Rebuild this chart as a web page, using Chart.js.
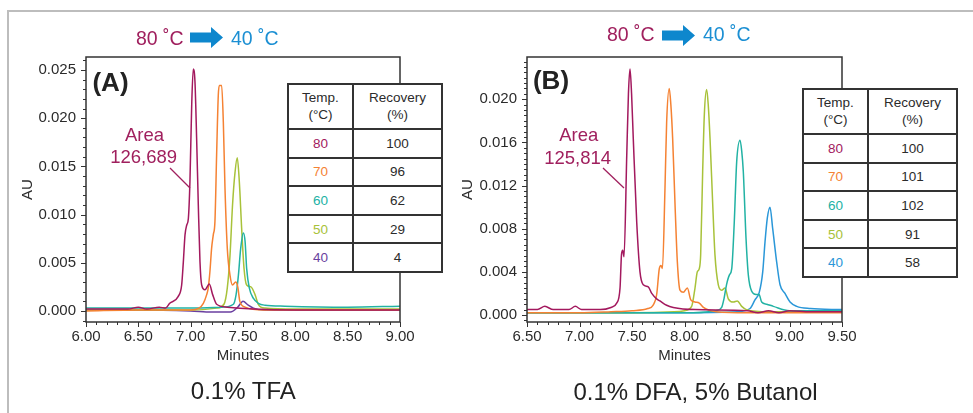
<!DOCTYPE html>
<html>
<head>
<meta charset="utf-8">
<script src="https://cdn.jsdelivr.net/npm/chart.js@4.4.1/dist/chart.umd.min.js"></script>
<style>
  html, body { margin: 0; padding: 0; background: #fff; }
  #page { position: relative; width: 973px; height: 413px; overflow: hidden;
          font-family: "Liberation Sans", Arial, sans-serif; color: #2b2b2b; }
  .frame { position: absolute; left: 7px; top: 10px; width: 980px; height: 420px;
           border-top: 2px solid #bdbdbd; border-left: 2px solid #bdbdbd; }
  canvas { position: absolute; top: 0; }
  .c { position: absolute; transform: translate(-50%, -50%); white-space: nowrap; line-height: 1; }
  .l { position: absolute; transform: translateY(-50%); white-space: nowrap; line-height: 1; }
  .tag { font-weight: bold; font-size: 26px; color: #222; }
  .area { font-size: 18.5px; color: #a0205e; }
  .hot { font-size: 19.5px; color: #a0205e; }
  .cold { font-size: 19.5px; color: #1b8fd3; }
  .cap { font-size: 24px; color: #222; }
  .tbl { position: absolute; display: grid; grid-template-columns: 65px 89px;
         grid-template-rows: 45px repeat(5, 28.6px); background: #fff;
         border-top: 2px solid #333; border-left: 2px solid #333; font-size: 13.5px; }
  .tbl div { box-sizing: border-box; border-right: 2px solid #333; border-bottom: 2px solid #333;
             display: flex; align-items: center; justify-content: center; text-align: center; }
  .tbl .h { line-height: 16.7px; }
</style>
</head>
<body>
<div id="page">
  <div class="frame"></div>
  <canvas id="chartA" width="480" height="413" style="left:0"></canvas>
  <canvas id="chartB" width="533" height="413" style="left:440px"></canvas>

  <div class="l hot" style="left:136px;top:38.5px">80 ˚C</div>
  <svg style="position:absolute;left:190px;top:27px" width="33" height="21"><polygon points="0,5.5 21,5.5 21,0 33,10.5 21,21 21,15.5 0,15.5" fill="#0e87cd"/></svg>
  <div class="l cold" style="left:231px;top:38.5px">40 ˚C</div>

  <div class="l hot" style="left:607px;top:35px">80 ˚C</div>
  <svg style="position:absolute;left:662px;top:24.5px" width="33" height="21"><polygon points="0,5.5 21,5.5 21,0 33,10.5 21,21 21,15.5 0,15.5" fill="#0e87cd"/></svg>
  <div class="l cold" style="left:703px;top:35px">40 ˚C</div>

  <div class="c tag" style="left:110.5px;top:82px">(A)</div>
  <div class="c tag" style="left:551px;top:79.5px">(B)</div>

  <div class="c area" style="left:144.5px;top:135px">Area</div>
  <div class="c area" style="left:143.7px;top:157.3px">126,689</div>
  <div class="c area" style="left:578.8px;top:135px">Area</div>
  <div class="c area" style="left:577.7px;top:157.7px">125,814</div>

  <div id="tableA" class="tbl" style="left:287px;top:83px"></div>
  <div id="tableB" class="tbl" style="left:802px;top:88px"></div>

  <div class="c cap" style="left:243.3px;top:390.5px">0.1% TFA</div>
  <div class="c cap" style="left:695.5px;top:392px">0.1% DFA, 5% Butanol</div>
</div>

<script>
// colours per column temperature
const temps = ['80', '70', '60', '50', '40'];
const colorsA = ['#a3195e', '#f58233', '#22b2a4', '#a8c23a', '#6a3fa0'];
const colorsB = ['#a3195e', '#f58233', '#22b2a4', '#a8c23a', '#2a97d8'];

// recovery (%) tables
const recoveryA = ['100', '96', '62', '29', '4'];
const recoveryB = ['100', '101', '102', '91', '58'];

// tick labels
const xLabelsA = ['6.00', '6.50', '7.00', '7.50', '8.00', '8.50', '9.00'];
const yLabelsA = ['0.000', '0.005', '0.010', '0.015', '0.020', '0.025'];
const xLabelsB = ['6.50', '7.00', '7.50', '8.00', '8.50', '9.00', '9.50'];
const yLabelsB = ['0.000', '0.004', '0.008', '0.012', '0.016', '0.020'];

// (A) 0.1% TFA traces: [minutes, AU]
const tfa80 = [[6.00,0.0002],[6.20,0.0002],[6.40,0.0002],[6.50,0.0004],[6.58,0.0002],[6.70,0.0004],[6.76,0.0003],
  [6.80,0.0008],[6.88,0.0015],[6.914,0.0027],[6.930,0.0051],[6.946,0.0079],[6.962,0.0089],[6.978,0.0096],
  [6.993,0.0134],[7.010,0.0214],[7.025,0.0251],[7.041,0.0238],[7.057,0.0179],[7.073,0.0110],[7.089,0.0051],
  [7.105,0.0027],[7.137,0.0022],[7.178,0.0028],[7.210,0.0017],[7.248,0.0007],[7.35,0.0004],[7.60,0.0002],
  [8.00,0.0001],[8.50,0.0001],[9.00,0.0001]];
const tfa70 = [[6.00,0.0000],[6.50,0.0001],[7.00,0.0001],[7.08,0.0003],[7.121,0.0008],[7.153,0.0017],[7.168,0.0024],
  [7.184,0.0041],[7.200,0.0065],[7.216,0.0079],[7.232,0.0093],[7.248,0.0162],[7.264,0.0224],[7.274,0.0234],
  [7.296,0.0234],[7.312,0.0196],[7.328,0.0127],[7.350,0.0065],[7.376,0.0037],[7.400,0.0027],[7.430,0.0030],
  [7.450,0.0025],[7.470,0.0010],[7.520,0.0004],[7.70,0.0001],[8.50,0.0001],[9.00,0.0001]];
const tfa60 = [[6.00,0.0003],[6.50,0.0003],[7.00,0.0003],[7.30,0.0004],[7.408,0.0007],[7.434,0.0017],[7.456,0.0037],
  [7.478,0.0065],[7.503,0.0081],[7.520,0.0072],[7.535,0.0044],[7.560,0.0024],[7.600,0.0013],[7.646,0.0008],
  [7.71,0.0006],[7.90,0.0005],[8.50,0.0004],[9.00,0.0005]];
const tfa50 = [[6.00,0.0001],[6.50,0.0001],[7.00,0.0001],[7.25,0.0003],[7.318,0.0007],[7.350,0.0024],[7.376,0.0058],
  [7.400,0.0110],[7.424,0.0144],[7.445,0.0159],[7.465,0.0134],[7.487,0.0086],[7.510,0.0044],[7.535,0.0027],
  [7.576,0.0025],[7.615,0.0017],[7.646,0.0007],[7.71,0.0003],[8.00,0.0002],[9.00,0.0002]];
const tfa40 = [[6.00,0.0001],[6.50,0.0001],[7.00,0.0000],[7.20,-0.0001],[7.38,-0.0001],[7.45,0.0004],[7.50,0.0010],
  [7.55,0.0006],[7.60,0.0003],[7.70,0.0001],[8.00,0.0001],[9.00,0.0001]];

// (B) 0.1% DFA, 5% Butanol traces: [minutes, AU]
const dfa80 = [[6.50,0.0005],[6.60,0.0005],[6.67,0.0008],[6.75,0.0005],[6.90,0.0005],[6.96,0.0008],[7.02,0.0005],
  [7.20,0.0005],[7.30,0.0007],[7.354,0.0011],[7.386,0.0025],[7.400,0.0056],[7.412,0.0060],[7.424,0.0054],
  [7.450,0.0148],[7.466,0.0205],[7.481,0.0228],[7.496,0.0205],[7.512,0.0164],[7.545,0.0086],[7.576,0.0040],
  [7.608,0.0028],[7.655,0.0026],[7.688,0.0020],[7.735,0.0015],[7.767,0.0013],[7.830,0.0009],[7.893,0.0007],
  [8.10,0.0005],[8.60,0.0004],[8.70,0.0002],[8.80,0.0004],[8.90,0.0002],[9.00,0.0004],[9.20,0.0003],[9.50,0.0003]];
const dfa70 = [[6.50,0.0002],[7.00,0.0002],[7.30,0.0003],[7.50,0.0004],[7.65,0.0006],[7.700,0.0009],[7.735,0.0019],
  [7.760,0.0043],[7.776,0.0046],[7.790,0.0043],[7.814,0.0117],[7.830,0.0179],[7.855,0.0210],[7.870,0.0195],
  [7.887,0.0164],[7.910,0.0102],[7.932,0.0049],[7.957,0.0023],[7.989,0.0021],[8.027,0.0025],[8.060,0.0014],
  [8.100,0.0012],[8.141,0.0011],[8.180,0.0007],[8.30,0.0003],[8.60,0.0002],[9.00,0.0002],[9.50,0.0002]];
const dfa60 = [[6.50,0.0002],[7.50,0.0002],[8.00,0.0002],[8.30,0.0004],[8.354,0.0007],[8.376,0.0015],[8.400,0.0028],
  [8.427,0.0037],[8.450,0.0043],[8.474,0.0086],[8.497,0.0142],[8.529,0.0162],[8.545,0.0152],[8.560,0.0133],
  [8.586,0.0071],[8.608,0.0037],[8.640,0.0022],[8.681,0.0019],[8.710,0.0019],[8.735,0.0012],[8.783,0.0010],
  [8.846,0.0008],[9.00,0.0004],[9.50,0.0004]];
const dfa50 = [[6.50,0.0002],[7.50,0.0002],[7.90,0.0003],[8.00,0.0004],[8.068,0.0008],[8.100,0.0025],[8.122,0.0040],
  [8.141,0.0043],[8.154,0.0056],[8.173,0.0133],[8.189,0.0186],[8.211,0.0209],[8.226,0.0195],[8.243,0.0164],
  [8.269,0.0102],[8.290,0.0056],[8.322,0.0028],[8.354,0.0023],[8.386,0.0025],[8.417,0.0015],[8.465,0.0012],
  [8.503,0.0013],[8.545,0.0008],[8.590,0.0005],[8.80,0.0003],[9.50,0.0003]];
const dfa40 = [[6.50,0.0002],[8.00,0.0002],[8.50,0.0003],[8.624,0.0006],[8.671,0.0014],[8.712,0.0021],[8.745,0.0040],
  [8.767,0.0068],[8.789,0.0090],[8.814,0.0100],[8.840,0.0080],[8.878,0.0049],[8.910,0.0028],[8.957,0.0020],
  [9.005,0.0012],[9.069,0.0008],[9.20,0.0006],[9.50,0.0005]];

function buildTable(id, recs, colors) {
  const el = document.getElementById(id);
  let html = '<div class="h">Temp.<br>(°C)</div><div class="h">Recovery<br>(%)</div>';
  temps.forEach((t, i) => {
    html += `<div style="color:${colors[i]}">${t}</div><div>${recs[i]}</div>`;
  });
  el.innerHTML = html;
}
buildTable('tableA', recoveryA, colorsA);
buildTable('tableB', recoveryB, colorsB);

// frame, major/minor tick marks and the area leader line
const panelFrame = {
  id: 'panelFrame',
  afterDraw(chart, args, opts) {
    const {ctx, chartArea: a, scales: {x, y}} = chart;
    ctx.save();
    ctx.strokeStyle = '#333';
    ctx.lineWidth = 1;
    ctx.beginPath();
    x.ticks.forEach(t => {
      const px = Math.round(x.getPixelForValue(t.value)) + 0.5;
      ctx.moveTo(px, a.bottom);
      ctx.lineTo(px, a.bottom + (t.label ? 5 : 3));
    });
    y.ticks.forEach(t => {
      const py = Math.round(y.getPixelForValue(t.value)) + 0.5;
      ctx.moveTo(a.left, py);
      ctx.lineTo(a.left - (t.label ? 5 : 3), py);
    });
    ctx.stroke();
    ctx.lineWidth = 1.5;
    ctx.strokeRect(a.left, a.top, a.right - a.left, a.bottom - a.top);
    const l = opts.leader;
    ctx.strokeStyle = '#a0205e';
    ctx.lineWidth = 1.3;
    ctx.beginPath();
    ctx.moveTo(x.getPixelForValue(l[0][0]), y.getPixelForValue(l[0][1]));
    ctx.lineTo(x.getPixelForValue(l[1][0]), y.getPixelForValue(l[1][1]));
    ctx.stroke();
    ctx.restore();
  }
};

function tickSetter(labels, step, digits) {
  const majors = labels.map(parseFloat);
  return {
    build(scale) {
      const list = [];
      const n = Math.round((scale.max - scale.min) / step) + 2;
      const start = Math.ceil(scale.min / step - 1e-9);
      for (let i = start; i < start + n; i++) {
        const v = +(i * step).toFixed(6);
        if (v >= scale.min - 1e-9 && v <= scale.max + 1e-9) list.push({value: v});
      }
      scale.ticks = list;
    },
    label(value) {
      return majors.some(m => Math.abs(m - value) < step / 10) ? value.toFixed(digits) : '';
    }
  };
}

function makePanel(id, series, colors, cfg) {
  const xt = tickSetter(cfg.xLabels, cfg.xStep, 2);
  const yt = tickSetter(cfg.yLabels, cfg.yStep, 3);
  const font = {family: '"Liberation Sans", Arial, sans-serif', size: 15};
  return new Chart(document.getElementById(id).getContext('2d'), {
    type: 'line',
    data: {
      datasets: series.map((s, i) => ({
        data: s.map(p => ({x: p[0], y: p[1]})),
        borderColor: colors[i],
        borderWidth: 1.5,
        pointRadius: 0,
        tension: 0.4,
        cubicInterpolationMode: 'monotone',
        fill: false
      }))
    },
    options: {
      responsive: false,
      animation: false,
      layout: {padding: {left: 0, top: 57, right: cfg.padRight, bottom: 0}},
      plugins: {legend: {display: false}, tooltip: {enabled: false}, panelFrame: {leader: cfg.leader}},
      scales: {
        x: {
          type: 'linear', min: cfg.xMin, max: cfg.xMax,
          afterBuildTicks: xt.build,
          afterFit(s) { s.height = 91; },
          grid: {display: false, drawTicks: false},
          border: {display: false},
          ticks: {autoSkip: false, maxRotation: 0, padding: 6, color: '#2b2b2b', font, callback: xt.label},
          title: {display: true, text: 'Minutes', color: '#2b2b2b', font, padding: {top: 0, bottom: 48}}
        },
        y: {
          type: 'linear', min: cfg.yMin, max: cfg.yMax,
          afterBuildTicks: yt.build,
          afterFit(s) { s.width = cfg.yWidth; },
          grid: {display: false, drawTicks: false},
          border: {display: false},
          ticks: {autoSkip: false, padding: 10, color: '#2b2b2b', font, callback: yt.label},
          title: {display: true, text: 'AU', color: '#2b2b2b', font, padding: {top: 19, bottom: 0}}
        }
      }
    },
    plugins: [panelFrame]
  });
}

makePanel('chartA', [tfa80, tfa70, tfa60, tfa50, tfa40], colorsA, {
  xMin: 6, xMax: 9, yMin: -0.00114, yMax: 0.02635, xStep: 0.1, yStep: 0.001,
  xLabels: xLabelsA, yLabels: yLabelsA, yWidth: 86, padRight: 80,
  leader: [[6.8025, 0.01483], [6.9936, 0.01276]]
});
makePanel('chartB', [dfa80, dfa70, dfa60, dfa50, dfa40], colorsB, {
  xMin: 6.5, xMax: 9.5, yMin: -0.00065, yMax: 0.02392, xStep: 0.1, yStep: 0.0005,
  xLabels: xLabelsB, yLabels: yLabelsB, yWidth: 87, padRight: 131,
  leader: [[7.2238, 0.01363], [7.4238, 0.01178]]
});
</script>
</body>
</html>
